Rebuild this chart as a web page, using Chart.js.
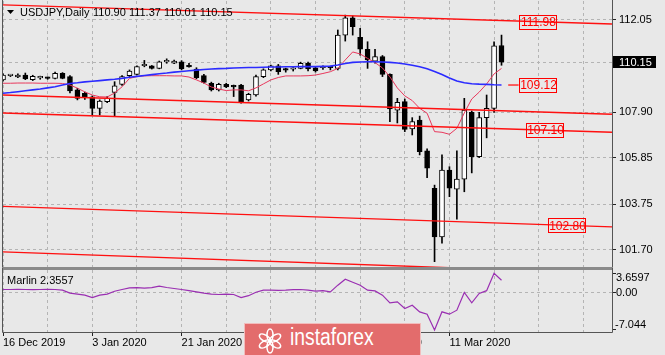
<!DOCTYPE html>
<html><head><meta charset="utf-8">
<script src="https://cdn.jsdelivr.net/npm/chart.js@4/dist/chart.umd.min.js"></script>
<style>
html,body{margin:0;padding:0;background:#e8e8e8;}
#wrap{position:relative;width:665px;height:355px;overflow:hidden;background:#e8e8e8;}
#c1{position:absolute;left:0;top:0;}
#c2{position:absolute;left:0;top:268px;}
#sep{position:absolute;left:2px;top:267px;width:611px;height:3px;background:#8a8a8a;}
#wm{position:absolute;left:244px;top:323px;width:177px;height:34px;background:#e36c6c;border:1px solid rgba(255,255,255,0.55);box-sizing:border-box;}
#wm span{position:absolute;left:45px;top:2px;font-family:"Liberation Sans",Arial,sans-serif;font-size:23px;line-height:23px;color:#fff;transform:scaleX(0.84);transform-origin:left top;white-space:nowrap;}
#wm svg{position:absolute;left:10px;top:2px;}
</style></head>
<body>
<div id="wrap">
<canvas id="c1" width="665" height="268"></canvas>
<div id="sep"></div>
<canvas id="c2" width="665" height="87"></canvas>
<div id="wm"><svg width="30" height="30" viewBox="-15 -15 30 30">
<g fill="none" stroke="#fff" stroke-width="1.6">
<ellipse cx="0" cy="-6" rx="3" ry="6"/>
<ellipse cx="0" cy="-6" rx="3" ry="6" transform="rotate(60)"/>
<ellipse cx="0" cy="-6" rx="3" ry="6" transform="rotate(120)"/>
<ellipse cx="0" cy="-6" rx="3" ry="6" transform="rotate(180)"/>
<ellipse cx="0" cy="-6" rx="3" ry="6" transform="rotate(240)"/>
<ellipse cx="0" cy="-6" rx="3" ry="6" transform="rotate(300)"/>
</g></svg><span>instaforex</span></div>
</div>
<script>
// ---------------- DATA ----------------
const dates = ['16 Dec 2019','17 Dec 2019','18 Dec 2019','19 Dec 2019','20 Dec 2019','23 Dec 2019','24 Dec 2019','26 Dec 2019','27 Dec 2019','30 Dec 2019','31 Dec 2019','2 Jan 2020','3 Jan 2020','6 Jan 2020','7 Jan 2020','8 Jan 2020','9 Jan 2020','10 Jan 2020','13 Jan 2020','14 Jan 2020','15 Jan 2020','16 Jan 2020','17 Jan 2020','20 Jan 2020','21 Jan 2020','22 Jan 2020','23 Jan 2020','24 Jan 2020','27 Jan 2020','28 Jan 2020','29 Jan 2020','30 Jan 2020','31 Jan 2020','3 Feb 2020','4 Feb 2020','5 Feb 2020','6 Feb 2020','7 Feb 2020','10 Feb 2020','11 Feb 2020','12 Feb 2020','13 Feb 2020','14 Feb 2020','17 Feb 2020','18 Feb 2020','19 Feb 2020','20 Feb 2020','21 Feb 2020','24 Feb 2020','25 Feb 2020','26 Feb 2020','27 Feb 2020','28 Feb 2020','2 Mar 2020','3 Mar 2020','4 Mar 2020','5 Mar 2020','6 Mar 2020','9 Mar 2020','10 Mar 2020','11 Mar 2020','12 Mar 2020','13 Mar 2020','16 Mar 2020','17 Mar 2020','18 Mar 2020','19 Mar 2020','20 Mar 2020'];

const open  = [109.35,109.54,109.48,109.57,109.36,109.44,109.43,109.42,109.65,109.50,108.90,108.75,108.59,108.07,108.37,108.79,109.15,109.54,109.60,109.99,109.98,109.87,110.16,110.11,110.17,109.95,109.84,109.54,109.20,108.90,109.15,109.05,109.12,108.45,108.67,109.50,109.80,109.98,109.80,109.83,109.87,110.10,109.90,109.90,109.91,109.87,111.37,112.15,111.27,110.73,110.20,110.40,109.60,107.99,108.37,107.14,107.54,106.15,104.47,102.28,105.29,104.43,104.88,107.89,105.89,107.65,108.07,110.90];
const high  = [109.62,109.60,109.62,109.66,109.56,109.52,109.48,109.70,109.68,109.55,108.97,108.80,108.63,108.45,108.60,109.27,109.55,109.80,109.98,110.23,110.00,110.20,110.30,110.24,110.22,110.10,109.90,109.60,109.25,109.20,109.20,109.12,109.15,108.75,109.57,109.85,110.02,110.05,109.88,109.90,110.15,110.15,109.95,109.98,109.97,111.60,112.27,112.23,111.68,111.07,110.73,110.45,109.62,108.52,108.49,107.65,107.72,106.25,104.61,105.97,105.44,106.15,108.52,107.95,107.89,108.67,111.07,111.37];
const low   = [109.30,109.50,109.45,109.36,109.32,109.38,109.38,109.40,109.40,108.76,108.45,108.47,107.77,107.77,108.33,107.70,109.10,109.50,109.57,109.94,109.84,109.85,110.10,110.08,109.80,109.93,109.40,109.20,108.85,108.85,109.00,108.60,108.30,108.40,108.62,109.45,109.75,109.60,109.70,109.75,109.85,109.75,109.70,109.82,109.80,109.80,111.10,111.37,110.47,109.87,110.10,109.50,107.47,107.41,107.02,106.87,105.97,104.94,101.16,101.99,104.09,103.08,104.31,105.16,105.85,106.74,107.89,110.01];
const close = [109.57,109.55,109.57,109.39,109.51,109.45,109.42,109.65,109.42,108.85,108.52,108.55,108.07,108.40,108.52,109.08,109.50,109.75,109.95,110.00,109.87,110.17,110.17,110.20,109.84,109.94,109.45,109.24,108.90,109.15,109.04,109.04,108.37,108.70,109.50,109.80,109.98,109.72,109.79,109.84,110.10,109.84,109.75,109.91,109.90,111.37,112.15,111.75,110.73,110.25,110.40,109.60,108.04,108.34,107.12,107.47,106.12,105.37,102.28,105.29,104.47,104.88,107.99,105.89,107.65,108.07,110.89,110.15];

const maBlue = [108.75,108.78,108.82,108.86,108.90,108.94,108.99,109.04,109.12,109.19,109.22,109.26,109.29,109.32,109.35,109.38,109.42,109.47,109.51,109.55,109.59,109.63,109.66,109.70,109.73,109.76,109.79,109.82,109.84,109.86,109.87,109.89,109.90,109.91,109.91,109.92,109.93,109.93,109.94,109.94,109.95,109.95,109.95,109.96,109.97,110.02,110.09,110.14,110.16,110.17,110.17,110.16,110.14,110.11,110.07,110.01,109.94,109.85,109.73,109.59,109.44,109.30,109.22,109.18,109.16,109.15,109.13,109.12];
const maRed  = [109.20,109.20,109.21,109.21,109.21,109.20,109.20,109.20,109.19,109.12,108.98,108.81,108.67,108.59,108.58,108.76,109.04,109.42,109.50,109.53,109.54,109.54,109.54,109.53,109.53,109.48,109.35,109.21,109.03,108.94,108.87,108.90,108.90,108.86,108.99,109.17,109.35,109.46,109.53,109.53,109.53,109.54,109.57,109.64,109.72,109.87,110.25,110.61,110.52,110.32,110.13,109.89,109.49,108.99,108.63,108.42,108.07,107.85,107.02,106.99,106.90,107.17,107.86,108.49,108.80,109.17,109.62,109.87];

const marlin = [0.60,0.60,0.62,0.60,0.58,0.60,0.62,0.60,0.47,-0.09,-0.28,-0.47,-0.91,-0.47,-0.28,0.28,0.60,0.91,0.94,0.85,0.94,1.23,0.98,0.79,0.60,0.38,0.15,-0.09,-0.28,-0.34,-0.28,-0.34,-0.91,-0.57,0.09,0.47,0.47,0.42,0.47,0.57,0.60,0.47,0.28,0.38,0.15,1.42,2.55,1.98,1.42,0.47,0.34,-0.47,-1.92,-1.74,-2.98,-2.36,-3.62,-4.06,-7.04,-3.62,-4.06,-3.30,0.04,-1.92,-0.15,0.38,3.66,2.3557];

// straight trend lines: price at first bar and at the right edge of the plot
const trendStart = [112.73,108.67,107.86,103.65,101.60];
const trendEnd   = [111.87,107.80,106.99,102.73,100.63];

const levelValues = [111.98,109.12,107.10,102.80];
const priceTicks  = [101.70,103.75,105.85,107.90,110.15,112.05];
const marlinTicks = [-7.044,0,3.6597];
const titleText = 'USDJPY,Daily';
const ohlcText = '110.90 111.37 110.01 110.15';
const marlinTitle = 'Marlin 2.3557';

// ---------------- CHART ----------------
const X_MAX = 81.85;
const Y_MIN = 100.92, Y_MAX = 112.906;
const S_MIN = -7.422, S_MAX = 4.283;
const FONT = '"Liberation Sans", Arial, sans-serif';
const gridIdx = []; for (let v = 0; v <= X_MAX; v += 6) gridIdx.push(v);
const idx = open.map((_, i) => i);
const bid = close[close.length - 1];
const LEVEL_AT = [69.3, 69.3, 70.3, 73.3];

Chart.defaults.font.family = FONT;
Chart.defaults.font.size = 11;
Chart.defaults.color = '#000';

const noPad = s => { s.paddingTop = 0; s.paddingBottom = 0; s.paddingLeft = 0; s.paddingRight = 0; };

const mainDecor = {
  id: 'mainDecor',
  afterDatasetsDraw(chart) {
    const {ctx, scales: {x, y}} = chart;
    ctx.save();
    ctx.strokeStyle = '#ff3030'; ctx.lineWidth = 1.5;
    ctx.beginPath();
    const yb = y.getPixelForValue(levelValues[1]);
    ctx.moveTo(x.getPixelForValue(67.9), yb); ctx.lineTo(x.getPixelForValue(LEVEL_AT[1]), yb); ctx.stroke();
    ctx.font = '12px ' + FONT; ctx.textAlign = 'center'; ctx.textBaseline = 'middle';
    levelValues.forEach((v, k) => {
      const px = Math.round(x.getPixelForValue(LEVEL_AT[k]));
      const py = y.getPixelForValue(v);
      const w = 37, h = 14;
      ctx.strokeStyle = '#ff0000'; ctx.lineWidth = 1;
      ctx.strokeRect(px + 0.5, Math.round(py - h / 2) + 0.5, w, h);
      ctx.fillStyle = '#ff0000';
      ctx.fillText(v.toFixed(2), px + w / 2 + 1, py + 1);
    });
    ctx.restore();
  },
  afterDraw(chart) {
    const {ctx, chartArea: a, scales: {y}} = chart;
    ctx.save();
    ctx.strokeStyle = '#555'; ctx.lineWidth = 1;
    ctx.beginPath();
    ctx.moveTo(a.left - 0.5, 0); ctx.lineTo(a.left - 0.5, a.bottom);
    ctx.moveTo(a.right + 0.5, 0); ctx.lineTo(a.right + 0.5, a.bottom);
    ctx.stroke();
    const py = Math.round(y.getPixelForValue(bid));
    ctx.fillStyle = '#000';
    ctx.fillRect(a.right + 1, py - 6, 43, 12);
    ctx.fillStyle = '#fff'; ctx.font = '11px ' + FONT;
    ctx.textAlign = 'left'; ctx.textBaseline = 'middle';
    ctx.fillText(bid.toFixed(2), a.right + 7, py + 0.5);
    ctx.fillStyle = '#000';
    ctx.beginPath(); ctx.moveTo(7, 10); ctx.lineTo(14, 10); ctx.lineTo(10.5, 14); ctx.closePath(); ctx.fill();
    ctx.fillText(titleText, 20, 12.5);
    ctx.fillText(ohlcText, 93, 12.5);
    ctx.restore();
  }
};

const datasets = [
  { type: 'bar', data: idx.map(i => ({x: i, y: [low[i], high[i]]})), backgroundColor: '#000',
    barThickness: 1, grouped: false, borderWidth: 0, order: 6 },
  { type: 'bar', data: idx.map(i => ({x: i, y: [open[i], close[i]]})),
    backgroundColor: idx.map(i => close[i] >= open[i] ? '#ffffff' : '#000000'),
    borderColor: '#000', borderWidth: 1, borderSkipped: false, minBarLength: 1.5,
    barThickness: 5, grouped: false, order: 5 },
  { type: 'line', data: idx.map(i => ({x: i, y: maRed[i]})), borderColor: '#e8385c', borderWidth: 1,
    pointRadius: 0, tension: 0, order: 3 },
  { type: 'line', data: idx.map(i => ({x: i, y: maBlue[i]})), borderColor: '#2b2bff', borderWidth: 1.6,
    pointRadius: 0, tension: 0, order: 2 }
];
trendStart.forEach((s, k) => datasets.push({
  type: 'line', data: [{x: 0, y: s}, {x: X_MAX, y: trendEnd[k]}], borderColor: '#ff1010',
  borderWidth: 1.4, pointRadius: 0, order: 1
}));

new Chart(document.getElementById('c1'), {
  type: 'bar',
  data: { datasets },
  options: {
    responsive: false, animation: false, devicePixelRatio: 1, events: [],
    layout: { padding: { left: 3, top: 1, right: 0, bottom: 1 } },
    plugins: { legend: { display: false }, tooltip: { enabled: false } },
    scales: {
      x: { type: 'linear', min: 0, max: X_MAX, offset: false,
        afterBuildTicks: s => { s.ticks = gridIdx.map(v => ({value: v})); },
        ticks: { display: false },
        grid: { offset: false, color: '#b4b4b4', drawTicks: false },
        border: { display: false, dash: [3, 3] },
        afterFit: s => { s.height = 0; noPad(s); } },
      y: { type: 'linear', position: 'right', min: Y_MIN, max: Y_MAX, beginAtZero: false,
        afterBuildTicks: s => { s.ticks = priceTicks.map(v => ({value: v})); },
        ticks: { padding: 3, color: '#000', font: { size: 11 },
          callback: v => v === bid ? '' : v.toFixed(2) },
        grid: { color: '#b4b4b4', tickColor: '#222', tickLength: 4 },
        border: { display: false, dash: [3, 3] },
        afterFit: s => { s.width = 53; noPad(s); } }
    }
  },
  plugins: [mainDecor]
});

const subDecor = {
  id: 'subDecor',
  afterDraw(chart) {
    const {ctx, chartArea: a, scales: {y}} = chart;
    ctx.save();
    ctx.strokeStyle = '#555'; ctx.lineWidth = 1;
    ctx.beginPath();
    ctx.moveTo(a.left - 0.5, 0); ctx.lineTo(a.left - 0.5, a.bottom + 0.5);
    ctx.lineTo(a.right + 0.5, a.bottom + 0.5); ctx.lineTo(a.right + 0.5, 0);
    ctx.stroke();
    ctx.fillStyle = '#000'; ctx.font = '11px ' + FONT;
    ctx.textAlign = 'left'; ctx.textBaseline = 'middle';
    ctx.fillText(marlinTitle, 7, 12.5);
    const offs = [-5, 0, 5];
    marlinTicks.forEach((v, k) => {
      const txt = v === 0 ? '0.00' : String(v);
      ctx.fillText(txt, a.right + (v < 0 ? 3 : 4), y.getPixelForValue(v) + offs[k]);
    });
    ctx.restore();
  }
};

new Chart(document.getElementById('c2'), {
  type: 'line',
  data: { datasets: [
    { data: idx.map(i => ({x: i, y: marlin[i]})), borderColor: '#9a2fb2', borderWidth: 1.2,
      pointRadius: 0, tension: 0 }
  ] },
  options: {
    responsive: false, animation: false, devicePixelRatio: 1, events: [],
    layout: { padding: { left: 3, top: 2, right: 0, bottom: 0 } },
    plugins: { legend: { display: false }, tooltip: { enabled: false } },
    scales: {
      x: { type: 'linear', min: 0, max: X_MAX, offset: false,
        afterBuildTicks: s => { s.ticks = gridIdx.map(v => ({value: v})); },
        ticks: { align: 'start', autoSkip: false, minRotation: 0, maxRotation: 0, padding: 0,
          color: '#000', font: { size: 11 },
          callback: v => (v % 12 === 0 && v < dates.length) ? dates[v] : '' },
        grid: { color: '#b4b4b4', tickLength: 4,
          tickColor: c => (c.tick && c.tick.value % 12 === 0 && c.tick.value < dates.length) ? '#222' : 'rgba(0,0,0,0)' },
        border: { display: false, dash: [3, 3] },
        afterFit: s => { s.height = 23; noPad(s); } },
      y: { type: 'linear', position: 'right', min: S_MIN, max: S_MAX,
        afterBuildTicks: s => { s.ticks = marlinTicks.map(v => ({value: v})); },
        ticks: { display: false },
        grid: { color: c => (c.tick && c.tick.value === 0) ? '#b4b4b4' : 'rgba(0,0,0,0)', tickColor: '#222', tickLength: 4 },
        border: { display: false, dash: [3, 3] },
        afterFit: s => { s.width = 53; noPad(s); } }
    }
  },
  plugins: [subDecor]
});
</script>
</body></html>
